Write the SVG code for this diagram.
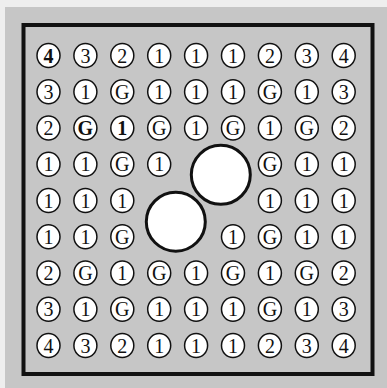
<svg xmlns="http://www.w3.org/2000/svg" width="387" height="388" viewBox="0 0 387 388">
<style>
.c{fill:#fff;stroke:#111;stroke-width:1.5}
.b{fill:#fff;stroke:#111;stroke-width:3}
text{font-family:"Liberation Serif","Times New Roman",serif;font-size:20px;text-anchor:middle;fill:#111}
.bd{font-weight:bold}
</style>
<rect x="0" y="0" width="387" height="388" fill="#eeeeee"/>
<rect x="5" y="7" width="382" height="381" fill="#c6c6c6"/>
<rect x="23.5" y="25" width="349" height="349" fill="none" stroke="#111" stroke-width="4"/>
<g id="row0">
<g id="n0_0"><ellipse class="c" cx="48.5" cy="55.5" rx="11.5" ry="12"/><text class="bd" x="48.5" y="62.5">4</text></g>
<g id="n0_1"><ellipse class="c" cx="85.4" cy="55.5" rx="11.5" ry="12"/><text x="85.4" y="62.5">3</text></g>
<g id="n0_2"><ellipse class="c" cx="122.3" cy="55.5" rx="11.5" ry="12"/><text x="122.3" y="62.5">2</text></g>
<g id="n0_3"><ellipse class="c" cx="159.2" cy="55.5" rx="11.5" ry="12"/><text x="159.2" y="62.5">1</text></g>
<g id="n0_4"><ellipse class="c" cx="196.1" cy="55.5" rx="11.5" ry="12"/><text x="196.1" y="62.5">1</text></g>
<g id="n0_5"><ellipse class="c" cx="233" cy="55.5" rx="11.5" ry="12"/><text x="233" y="62.5">1</text></g>
<g id="n0_6"><ellipse class="c" cx="269.9" cy="55.5" rx="11.5" ry="12"/><text x="269.9" y="62.5">2</text></g>
<g id="n0_7"><ellipse class="c" cx="306.8" cy="55.5" rx="11.5" ry="12"/><text x="306.8" y="62.5">3</text></g>
<g id="n0_8"><ellipse class="c" cx="343.7" cy="55.5" rx="11.5" ry="12"/><text x="343.7" y="62.5">4</text></g>
</g>
<g id="row1">
<g id="n1_0"><ellipse class="c" cx="48.5" cy="91.75" rx="11.5" ry="12"/><text x="48.5" y="98.75">3</text></g>
<g id="n1_1"><ellipse class="c" cx="85.4" cy="91.75" rx="11.5" ry="12"/><text x="85.4" y="98.75">1</text></g>
<g id="n1_2"><ellipse class="c" cx="122.3" cy="91.75" rx="11.5" ry="12"/><text x="122.3" y="98.75">G</text></g>
<g id="n1_3"><ellipse class="c" cx="159.2" cy="91.75" rx="11.5" ry="12"/><text x="159.2" y="98.75">1</text></g>
<g id="n1_4"><ellipse class="c" cx="196.1" cy="91.75" rx="11.5" ry="12"/><text x="196.1" y="98.75">1</text></g>
<g id="n1_5"><ellipse class="c" cx="233" cy="91.75" rx="11.5" ry="12"/><text x="233" y="98.75">1</text></g>
<g id="n1_6"><ellipse class="c" cx="269.9" cy="91.75" rx="11.5" ry="12"/><text x="269.9" y="98.75">G</text></g>
<g id="n1_7"><ellipse class="c" cx="306.8" cy="91.75" rx="11.5" ry="12"/><text x="306.8" y="98.75">1</text></g>
<g id="n1_8"><ellipse class="c" cx="343.7" cy="91.75" rx="11.5" ry="12"/><text x="343.7" y="98.75">3</text></g>
</g>
<g id="row2">
<g id="n2_0"><ellipse class="c" cx="48.5" cy="128" rx="11.5" ry="12"/><text x="48.5" y="135">2</text></g>
<g id="n2_1"><ellipse class="c" cx="85.4" cy="128" rx="11.5" ry="12"/><text class="bd" x="85.4" y="135">G</text></g>
<g id="n2_2"><ellipse class="c" cx="122.3" cy="128" rx="11.5" ry="12"/><text class="bd" x="122.3" y="135">1</text></g>
<g id="n2_3"><ellipse class="c" cx="159.2" cy="128" rx="11.5" ry="12"/><text x="159.2" y="135">G</text></g>
<g id="n2_4"><ellipse class="c" cx="196.1" cy="128" rx="11.5" ry="12"/><text x="196.1" y="135">1</text></g>
<g id="n2_5"><ellipse class="c" cx="233" cy="128" rx="11.5" ry="12"/><text x="233" y="135">G</text></g>
<g id="n2_6"><ellipse class="c" cx="269.9" cy="128" rx="11.5" ry="12"/><text x="269.9" y="135">1</text></g>
<g id="n2_7"><ellipse class="c" cx="306.8" cy="128" rx="11.5" ry="12"/><text x="306.8" y="135">G</text></g>
<g id="n2_8"><ellipse class="c" cx="343.7" cy="128" rx="11.5" ry="12"/><text x="343.7" y="135">2</text></g>
</g>
<g id="row3">
<g id="n3_0"><ellipse class="c" cx="48.5" cy="164.25" rx="11.5" ry="12"/><text x="48.5" y="171.25">1</text></g>
<g id="n3_1"><ellipse class="c" cx="85.4" cy="164.25" rx="11.5" ry="12"/><text x="85.4" y="171.25">1</text></g>
<g id="n3_2"><ellipse class="c" cx="122.3" cy="164.25" rx="11.5" ry="12"/><text x="122.3" y="171.25">G</text></g>
<g id="n3_3"><ellipse class="c" cx="159.2" cy="164.25" rx="11.5" ry="12"/><text x="159.2" y="171.25">1</text></g>
<g id="n3_6"><ellipse class="c" cx="269.9" cy="164.25" rx="11.5" ry="12"/><text x="269.9" y="171.25">G</text></g>
<g id="n3_7"><ellipse class="c" cx="306.8" cy="164.25" rx="11.5" ry="12"/><text x="306.8" y="171.25">1</text></g>
<g id="n3_8"><ellipse class="c" cx="343.7" cy="164.25" rx="11.5" ry="12"/><text x="343.7" y="171.25">1</text></g>
</g>
<g id="row4">
<g id="n4_0"><ellipse class="c" cx="48.5" cy="200.5" rx="11.5" ry="12"/><text x="48.5" y="207.5">1</text></g>
<g id="n4_1"><ellipse class="c" cx="85.4" cy="200.5" rx="11.5" ry="12"/><text x="85.4" y="207.5">1</text></g>
<g id="n4_2"><ellipse class="c" cx="122.3" cy="200.5" rx="11.5" ry="12"/><text x="122.3" y="207.5">1</text></g>
<g id="n4_6"><ellipse class="c" cx="269.9" cy="200.5" rx="11.5" ry="12"/><text x="269.9" y="207.5">1</text></g>
<g id="n4_7"><ellipse class="c" cx="306.8" cy="200.5" rx="11.5" ry="12"/><text x="306.8" y="207.5">1</text></g>
<g id="n4_8"><ellipse class="c" cx="343.7" cy="200.5" rx="11.5" ry="12"/><text x="343.7" y="207.5">1</text></g>
</g>
<g id="row5">
<g id="n5_0"><ellipse class="c" cx="48.5" cy="236.75" rx="11.5" ry="12"/><text x="48.5" y="243.75">1</text></g>
<g id="n5_1"><ellipse class="c" cx="85.4" cy="236.75" rx="11.5" ry="12"/><text x="85.4" y="243.75">1</text></g>
<g id="n5_2"><ellipse class="c" cx="122.3" cy="236.75" rx="11.5" ry="12"/><text x="122.3" y="243.75">G</text></g>
<g id="n5_5"><ellipse class="c" cx="233" cy="236.75" rx="11.5" ry="12"/><text x="233" y="243.75">1</text></g>
<g id="n5_6"><ellipse class="c" cx="269.9" cy="236.75" rx="11.5" ry="12"/><text x="269.9" y="243.75">G</text></g>
<g id="n5_7"><ellipse class="c" cx="306.8" cy="236.75" rx="11.5" ry="12"/><text x="306.8" y="243.75">1</text></g>
<g id="n5_8"><ellipse class="c" cx="343.7" cy="236.75" rx="11.5" ry="12"/><text x="343.7" y="243.75">1</text></g>
</g>
<g id="row6">
<g id="n6_0"><ellipse class="c" cx="48.5" cy="273" rx="11.5" ry="12"/><text x="48.5" y="280">2</text></g>
<g id="n6_1"><ellipse class="c" cx="85.4" cy="273" rx="11.5" ry="12"/><text x="85.4" y="280">G</text></g>
<g id="n6_2"><ellipse class="c" cx="122.3" cy="273" rx="11.5" ry="12"/><text x="122.3" y="280">1</text></g>
<g id="n6_3"><ellipse class="c" cx="159.2" cy="273" rx="11.5" ry="12"/><text x="159.2" y="280">G</text></g>
<g id="n6_4"><ellipse class="c" cx="196.1" cy="273" rx="11.5" ry="12"/><text x="196.1" y="280">1</text></g>
<g id="n6_5"><ellipse class="c" cx="233" cy="273" rx="11.5" ry="12"/><text x="233" y="280">G</text></g>
<g id="n6_6"><ellipse class="c" cx="269.9" cy="273" rx="11.5" ry="12"/><text x="269.9" y="280">1</text></g>
<g id="n6_7"><ellipse class="c" cx="306.8" cy="273" rx="11.5" ry="12"/><text x="306.8" y="280">G</text></g>
<g id="n6_8"><ellipse class="c" cx="343.7" cy="273" rx="11.5" ry="12"/><text x="343.7" y="280">2</text></g>
</g>
<g id="row7">
<g id="n7_0"><ellipse class="c" cx="48.5" cy="309.25" rx="11.5" ry="12"/><text x="48.5" y="316.25">3</text></g>
<g id="n7_1"><ellipse class="c" cx="85.4" cy="309.25" rx="11.5" ry="12"/><text x="85.4" y="316.25">1</text></g>
<g id="n7_2"><ellipse class="c" cx="122.3" cy="309.25" rx="11.5" ry="12"/><text x="122.3" y="316.25">G</text></g>
<g id="n7_3"><ellipse class="c" cx="159.2" cy="309.25" rx="11.5" ry="12"/><text x="159.2" y="316.25">1</text></g>
<g id="n7_4"><ellipse class="c" cx="196.1" cy="309.25" rx="11.5" ry="12"/><text x="196.1" y="316.25">1</text></g>
<g id="n7_5"><ellipse class="c" cx="233" cy="309.25" rx="11.5" ry="12"/><text x="233" y="316.25">1</text></g>
<g id="n7_6"><ellipse class="c" cx="269.9" cy="309.25" rx="11.5" ry="12"/><text x="269.9" y="316.25">G</text></g>
<g id="n7_7"><ellipse class="c" cx="306.8" cy="309.25" rx="11.5" ry="12"/><text x="306.8" y="316.25">1</text></g>
<g id="n7_8"><ellipse class="c" cx="343.7" cy="309.25" rx="11.5" ry="12"/><text x="343.7" y="316.25">3</text></g>
</g>
<g id="row8">
<g id="n8_0"><ellipse class="c" cx="48.5" cy="345.5" rx="11.5" ry="12"/><text x="48.5" y="352.5">4</text></g>
<g id="n8_1"><ellipse class="c" cx="85.4" cy="345.5" rx="11.5" ry="12"/><text x="85.4" y="352.5">3</text></g>
<g id="n8_2"><ellipse class="c" cx="122.3" cy="345.5" rx="11.5" ry="12"/><text x="122.3" y="352.5">2</text></g>
<g id="n8_3"><ellipse class="c" cx="159.2" cy="345.5" rx="11.5" ry="12"/><text x="159.2" y="352.5">1</text></g>
<g id="n8_4"><ellipse class="c" cx="196.1" cy="345.5" rx="11.5" ry="12"/><text x="196.1" y="352.5">1</text></g>
<g id="n8_5"><ellipse class="c" cx="233" cy="345.5" rx="11.5" ry="12"/><text x="233" y="352.5">1</text></g>
<g id="n8_6"><ellipse class="c" cx="269.9" cy="345.5" rx="11.5" ry="12"/><text x="269.9" y="352.5">2</text></g>
<g id="n8_7"><ellipse class="c" cx="306.8" cy="345.5" rx="11.5" ry="12"/><text x="306.8" y="352.5">3</text></g>
<g id="n8_8"><ellipse class="c" cx="343.7" cy="345.5" rx="11.5" ry="12"/><text x="343.7" y="352.5">4</text></g>
</g>
<g id="big1"><circle class="b" cx="220.8" cy="174.8" r="29.5"/></g>
<g id="big2"><circle class="b" cx="175.8" cy="221.7" r="29.5"/></g>
<g id="connectors"></g>
</svg>
